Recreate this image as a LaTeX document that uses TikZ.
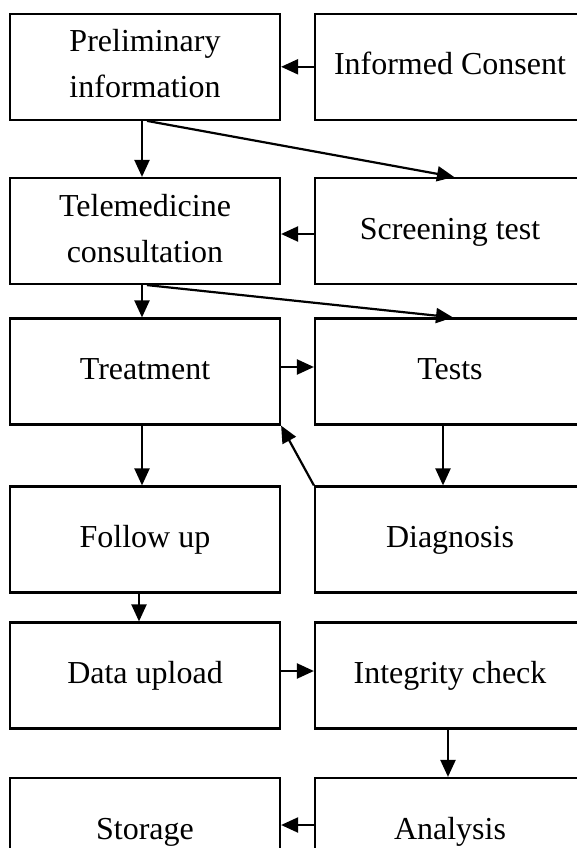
\documentclass[tikz,border=0pt]{standalone}
\usepackage{fontspec}
\setmainfont{Liberation Serif}
\usetikzlibrary{arrows.meta}
\newcommand{\lowstrut}{\rule[-6pt]{0pt}{6pt}}
\begin{document}
\begin{tikzpicture}[x=1pt,y=-1pt,
  frame/.style={draw=black, line width=2.2pt, rectangle, inner sep=0pt,
    minimum width=270pt, minimum height=106pt, align=center,
    font=\fontsize{32}{46}\selectfont},
  box/.style={frame, text height=22pt, text depth=6pt},
  twoline/.style={frame},
  flow/.style={draw=black, line width=2.2pt,
    -{Triangle[length=17pt,width=15pt]}}]
\useasboundingbox (0,0) rectangle (577,848);
\fill[white] (0,0) rectangle (577,848);
\clip (0,0) rectangle (577,848);

% left column
\node[twoline] (pre)  at (145,66.8) {Preliminary\\information\lowstrut};
\node[twoline] (tele) at (145,231)  {Telemedicine\\consultation\lowstrut};
\node[box] (treat) at (145,371.5) {Treatment};
\node[box] (foll)  at (145,539.5) {Follow up};
\node[box] (data)  at (145,675.5) {Data upload};
\node[box] (stor)  at (145,831)   {Storage};

% right column
\node[box] (cons)  at (450,66.8)  {Informed Consent};
\node[box] (scr)   at (450,231)   {Screening test};
\node[box] (tests) at (450,371.5) {Tests};
\node[box] (diag)  at (450,539.5) {Diagnosis};
\node[box] (integ) at (450,675.5) {Integrity check};
\node[box] (anal)  at (450,831)   {Analysis};

% connectors
\draw[flow] (cons.west) -- (pre.east);
\draw[flow] ([xshift=-3pt]pre.south) -- ([xshift=-3pt]tele.north);
\draw[flow] ([xshift=2pt]pre.south) -- ([xshift=4pt]scr.north);
\draw[flow] ([yshift=-3pt]scr.west) -- ([yshift=-3pt]tele.east);
\draw[flow] ([xshift=-3pt]tele.south) -- ([xshift=-3pt]treat.north);
\draw[flow] ([xshift=2pt]tele.south) -- ([xshift=3pt]tests.north);
\draw[flow] ([yshift=4.5pt]treat.east) -- ([yshift=4.5pt]tests.west);
\draw[flow] ([xshift=-3pt]treat.south) -- ([xshift=-3pt]foll.north);
\draw[flow] ([xshift=-7pt]tests.south) -- ([xshift=-7pt]diag.north);
\draw[flow] (diag.north west) -- (treat.south east);
\draw[flow] ([xshift=-6pt]foll.south) -- ([xshift=-6pt]data.north);
\draw[flow] ([yshift=4.5pt]data.east) -- ([yshift=4.5pt]integ.west);
\draw[flow] ([xshift=-2pt]integ.south) -- ([xshift=-2pt]anal.north);
\draw[flow] ([yshift=6pt]anal.west) -- ([yshift=6pt]stor.east);
\end{tikzpicture}
\end{document}
